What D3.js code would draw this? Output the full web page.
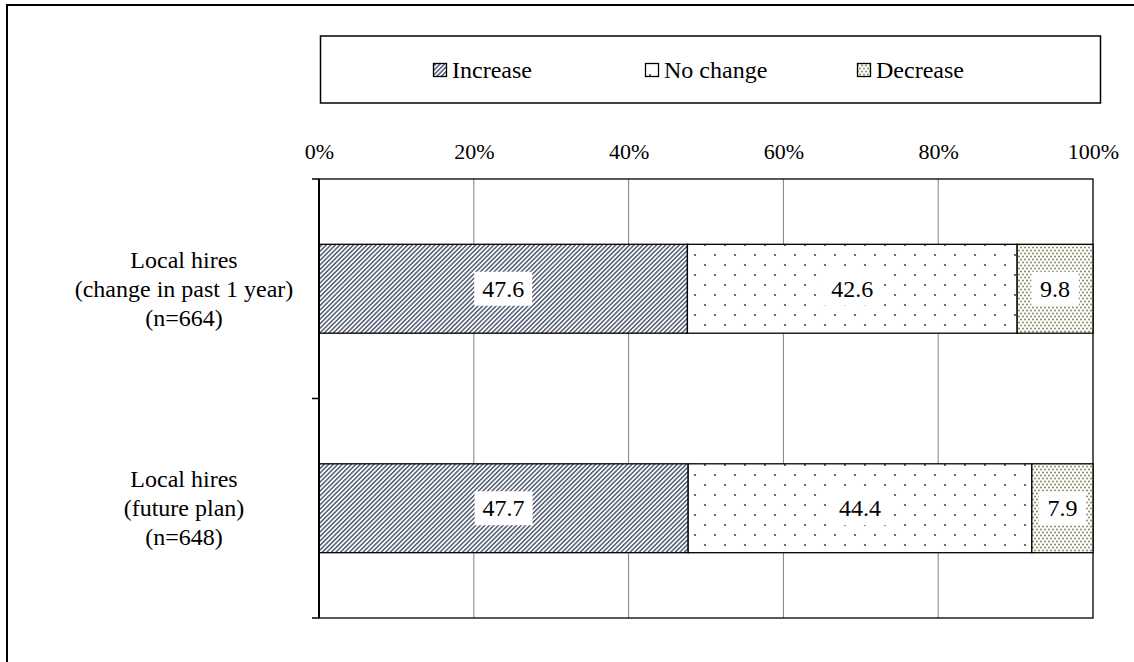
<!DOCTYPE html>
<html>
<head>
<meta charset="utf-8">
<script src="https://cdn.jsdelivr.net/npm/d3@7"></script>
</head>
<body style="margin:0;background:#fff">
<svg id="chart" width="1134" height="662" style="display:block;font-family:'Liberation Serif',Tinos,'Times New Roman',Times,serif"></svg>
<script>
// Survey results: share of firms by change in local hires
const categories = [
  ["Local hires", "(change in past 1 year)", "(n=664)"],
  ["Local hires", "(future plan)", "(n=648)"]
];
const seriesNames = ["Increase", "No change", "Decrease"];
const increase = [47.6, 47.7];
const noChange = [42.6, 44.4];
const decrease = [9.8, 7.9];
const tickValues = [0, 20, 40, 60, 80, 100];

const FONT = "'Liberation Serif', Tinos, 'Times New Roman', Times, serif";
const svg = d3.select("#chart");
const defs = svg.append("defs");

// Fill patterns for each series
const pInc = defs.append("pattern").attr("id", "p-inc")
  .attr("patternUnits", "userSpaceOnUse").attr("width", 3.2).attr("height", 6)
  .attr("patternTransform", "rotate(45)");
pInc.append("rect").attr("width", 3.2).attr("height", 6).attr("fill", "#ffffff");
pInc.append("rect").attr("width", 1.5).attr("height", 6).attr("fill", "#505c74");

const pNo = defs.append("pattern").attr("id", "p-no")
  .attr("patternUnits", "userSpaceOnUse").attr("width", 20).attr("height", 20);
pNo.append("rect").attr("width", 20).attr("height", 20).attr("fill", "#ffffff");
pNo.append("circle").attr("cx", 5).attr("cy", 5).attr("r", 1.1).attr("fill", "#444");
pNo.append("circle").attr("cx", 15).attr("cy", 15).attr("r", 1.1).attr("fill", "#444");

const pDec = defs.append("pattern").attr("id", "p-dec")
  .attr("patternUnits", "userSpaceOnUse").attr("width", 4).attr("height", 6);
pDec.append("rect").attr("width", 4).attr("height", 6).attr("fill", "#ffffff");
pDec.append("circle").attr("cx", 1).attr("cy", 1.5).attr("r", 0.9).attr("fill", "#6f7f4f");
pDec.append("circle").attr("cx", 3).attr("cy", 4.5).attr("r", 0.9).attr("fill", "#6f7f4f");

const fills = ["url(#p-inc)", "url(#p-no)", "url(#p-dec)"];

// Helper: serif text styling
const serif = (sel, size) => sel
  .attr("font-family", FONT).style("font-family", FONT)
  .attr("font-size", size).attr("fill", "#000");

// Outer frame
svg.append("rect").attr("x", 7).attr("y", 5).attr("width", 1200).attr("height", 700)
  .attr("fill", "none").attr("stroke", "#000").attr("stroke-width", 2);

// Plot area
const plot = { left: 319, right: 1093, top: 179, bottom: 618 };
const x = d3.scaleLinear().domain([0, 100]).range([plot.left, plot.right]);
const y = d3.scaleBand().domain(d3.range(categories.length))
  .range([plot.top, plot.bottom]).paddingInner(0.595).paddingOuter(0.2975);

// Vertical gridlines
svg.append("g").selectAll("line").data(tickValues.filter(v => v > 0 && v < 100)).join("line")
  .attr("x1", d => x(d)).attr("x2", d => x(d))
  .attr("y1", plot.top).attr("y2", plot.bottom)
  .attr("stroke", "#808080").attr("stroke-width", 1);

// Plot border
svg.append("rect").attr("x", plot.left).attr("y", plot.top)
  .attr("width", plot.right - plot.left).attr("height", plot.bottom - plot.top)
  .attr("fill", "none").attr("stroke", "#000").attr("stroke-width", 1.3);

// Stacked data
const rows = categories.map((c, i) => [increase[i], noChange[i], decrease[i]]);
const stacked = [];
rows.forEach((vals, i) => {
  let acc = 0;
  vals.forEach((v, s) => {
    stacked.push({ row: i, s, x0: acc, x1: acc + v, v });
    acc += v;
  });
});

svg.append("g").selectAll("rect").data(stacked).join("rect")
  .attr("x", d => x(d.x0)).attr("width", d => x(d.x1) - x(d.x0))
  .attr("y", d => y(d.row)).attr("height", y.bandwidth())
  .attr("fill", d => fills[d.s]).attr("stroke", "#000").attr("stroke-width", 1.3);

// Value labels with white boxes (box width from character count)
const lbl = svg.append("g").selectAll("g").data(stacked).join("g")
  .attr("transform", d => `translate(${(x(d.x0) + x(d.x1)) / 2},${y(d.row) + y.bandwidth() / 2})`);
lbl.append("rect")
  .attr("x", d => -(d.v.toFixed(1).length * 10.5) / 2 - 8)
  .attr("width", d => d.v.toFixed(1).length * 10.5 + 16)
  .attr("y", -17).attr("height", 34)
  .attr("fill", "#fff");
serif(lbl.append("text"), 24).attr("text-anchor", "middle").attr("dy", "0.34em")
  .text(d => d.v.toFixed(1));

// Top percentage axis
const xAxis = d3.axisTop(x).tickValues(tickValues).tickFormat(d => d + "%").tickSize(0).tickPadding(0);
const gx = svg.append("g").attr("transform", `translate(0,${plot.top - 20})`).call(xAxis);
gx.select(".domain").remove();
gx.attr("font-family", FONT).style("font-family", FONT);
serif(gx.selectAll("text"), 22);

// Left category axis line with ticks at band boundaries
svg.append("line").attr("x1", plot.left).attr("x2", plot.left)
  .attr("y1", plot.top).attr("y2", plot.bottom).attr("stroke", "#000").attr("stroke-width", 2);
const step = (plot.bottom - plot.top) / categories.length;
svg.append("g").selectAll("line").data(d3.range(categories.length + 1)).join("line")
  .attr("x1", plot.left - 7).attr("x2", plot.left)
  .attr("y1", d => plot.top + d * step).attr("y2", d => plot.top + d * step)
  .attr("stroke", "#000").attr("stroke-width", 1.5);

// Category labels
const catG = serif(svg.append("g").selectAll("text").data(categories).join("text"), 24)
  .attr("text-anchor", "middle")
  .attr("x", 184).attr("y", (d, i) => y(i) + y.bandwidth() / 2 - 29 + 8);
catG.selectAll("tspan").data(d => d).join("tspan")
  .attr("x", 184).attr("dy", (d, i) => i === 0 ? 0 : 29).text(d => d);

// Legend
svg.append("rect").attr("x", 320.5).attr("y", 36).attr("width", 780).attr("height", 67)
  .attr("fill", "#fff").attr("stroke", "#000").attr("stroke-width", 1.5);
const legendX = [433, 645, 857];
const leg = svg.append("g").selectAll("g").data(seriesNames).join("g")
  .attr("transform", (d, i) => `translate(${legendX[i]},70)`);
leg.append("rect").attr("x", 0.5).attr("y", -6.5).attr("width", 13).attr("height", 13)
  .attr("fill", (d, i) => fills[i]).attr("stroke", "#000").attr("stroke-width", 1.3);
serif(leg.append("text"), 24).attr("x", 19).attr("dy", "0.34em")
  .text(d => d);
</script>
</body>
</html>
